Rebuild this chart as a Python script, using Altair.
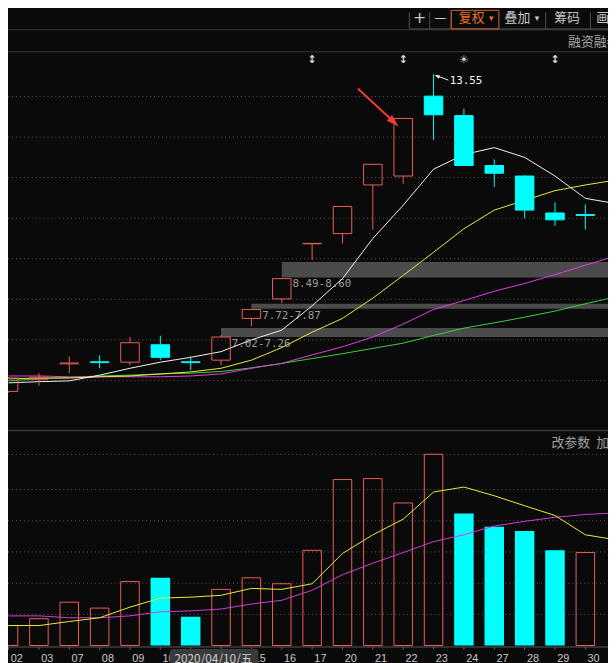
import altair as alt
import pandas as pd

# ---------------- data ----------------
dates = ["02", "03", "07", "08", "09", "10", "13", "14", "15", "16",
         "17", "20", "21", "22", "23", "24", "27", "28", "29", "30"]
open_ = [5.73, 6.03, 6.41, 6.46, 6.45, 6.88, 6.46, 6.50, 7.53, 8.01,
         9.37, 9.62, 10.82, 11.04, 13.01, 12.53, 11.30, 11.04, 10.13, 10.09]
high = [6.08, 6.18, 6.59, 6.62, 7.07, 7.10, 6.59, 7.12, 7.76, 8.52,
        9.38, 10.30, 11.34, 12.47, 13.55, 12.70, 11.45, 11.06, 10.39, 10.34]
low = [5.70, 5.87, 6.18, 6.30, 6.38, 6.50, 6.25, 6.38, 7.34, 7.91,
       8.97, 9.38, 9.72, 10.85, 11.93, 11.29, 10.77, 10.00, 9.81, 9.72]
close = [6.06, 6.08, 6.43, 6.44, 6.93, 6.57, 6.44, 7.07, 7.75, 8.51,
         9.38, 10.29, 11.33, 12.46, 12.55, 11.30, 11.11, 10.20, 9.96, 10.07]
volume = [0.64, 0.86, 1.39, 1.20, 2.05, 2.17, 0.92, 1.80, 2.17, 1.98,
          3.05, 5.32, 5.35, 4.57, 6.13, 4.23, 3.81, 3.67, 3.05, 2.98]

# moving averages (21 points: the 20 visible days + the next day off the right edge)
ma5 = [5.94, 5.97, 5.99, 6.13, 6.30, 6.45, 6.57, 6.71, 7.00, 7.24, 7.84,
       8.51, 9.50, 10.32, 11.21, 11.57, 11.74, 11.50, 11.04, 10.49, 10.36]
ma10 = [6.04, 6.06, 6.06, 6.09, 6.11, 6.16, 6.21, 6.30, 6.50, 6.81, 7.19,
        7.53, 8.03, 8.59, 9.16, 9.74, 10.20, 10.44, 10.68, 10.82, 10.94]
ma20 = [6.11, 6.11, 6.09, 6.09, 6.09, 6.09, 6.11, 6.16, 6.30, 6.42, 6.63,
        6.83, 7.07, 7.39, 7.75, 7.97, 8.20, 8.39, 8.61, 8.84, 9.07]
ma30 = [5.99, 6.04, 6.07, 6.11, 6.13, 6.16, 6.18, 6.22, 6.31, 6.42, 6.54,
        6.66, 6.79, 6.92, 7.11, 7.29, 7.42, 7.56, 7.71, 7.89, 8.06]
vma5 = [0.64, 0.64, 0.77, 0.89, 1.23, 1.52, 1.55, 1.61, 1.83, 1.80, 1.98,
        2.95, 3.55, 4.05, 4.92, 5.08, 4.80, 4.48, 4.17, 3.55, 3.39]
vma10 = [0.95, 0.95, 0.89, 0.89, 0.95, 1.08, 1.11, 1.17, 1.33, 1.45, 1.77,
         2.27, 2.64, 2.98, 3.33, 3.55, 3.83, 3.98, 4.11, 4.20, 4.25]

band_start = [9, 8, 7]
band_lo = [8.54, 7.77, 7.07]
band_hi = [8.92, 7.89, 7.29]
band_text = ["8.49-8.60", "7.72-7.87", "7.02-7.26"]

marker_idx = [10, 13, 15, 18]
marker_sym = ["↕", "↕", "☀", "↕"]

price_grid = [6, 7, 8, 9, 10, 11, 12, 13]
vol_grid = [1, 2, 3, 4, 5, 6.13]

peak_idx = 14
arrow_idx = 13
tooltip_text = "2020/04/10/五"

# ---------------- styling / geometry ----------------
BG = "#0a0a0a"
RED = "#ee5f58"
CYAN = "#00ffff"
GRID = "#5c5c5c"
BAND = "#4b4b4b"
CJK = "Noto Sans CJK SC"
MONO = "DejaVu Sans Mono"

W, H = 608, 655
SX, SY = W / 616, H / 663


def px(v):
    return round(v * SX, 2)


def py(v):
    return round(v * SY, 2)


def ref_price_y(p):
    return 336 - (p - 7) * 41.6


def ref_vol_y(v):
    return 649.5 - 32 * v


xs = alt.Scale(domain=[0, 19], range=[px(-4.5), px(-4.5 + 31.7 * 19)], zero=False, nice=False)
ps = alt.Scale(domain=[6, 13], range=[py(ref_price_y(6)), py(ref_price_y(13))], zero=False, nice=False)
vs = alt.Scale(domain=[0, 6], range=[py(ref_vol_y(0)), py(ref_vol_y(6))], zero=False, nice=False)


def X(f="idx"):
    return alt.X(f"{f}:Q", scale=xs, axis=None)


def YP(f):
    return alt.Y(f"{f}:Q", scale=ps, axis=None)


def YV(f):
    return alt.Y(f"{f}:Q", scale=vs, axis=None)


cdf = pd.DataFrame(dict(idx=list(range(20)), date=dates, open=open_, high=high,
                        low=low, close=close, vol=volume))
cdf["top"] = cdf[["open", "close"]].max(axis=1)
cdf["bot"] = cdf[["open", "close"]].min(axis=1)
cdf["prev"] = cdf["close"].shift(1).fillna(cdf["open"])
cdf["vup"] = cdf["close"] >= cdf["prev"]

mdf = pd.DataFrame(dict(idx=list(range(21)), ma5=ma5, ma10=ma10, ma20=ma20, ma30=ma30,
                        vma5=vma5, vma10=vma10))
bdf = pd.DataFrame(dict(start=band_start, lo=band_lo, hi=band_hi, label=band_text))
evdf = pd.DataFrame(dict(idx=marker_idx, sym=marker_sym))
pgdf = pd.DataFrame(dict(g=price_grid))
vgdf = pd.DataFrame(dict(g=vol_grid))
peak = cdf[cdf.idx == peak_idx]
arr = cdf[cdf.idx == arrow_idx]

one = pd.DataFrame({"k": [0]})
candle_col = alt.condition("datum.close < datum.open", alt.value(CYAN), alt.value(RED))

layers = []


def ui_rule(x1, y1, x2, y2, color, width=1, dash=None):
    kw = dict(color=color, strokeWidth=width)
    if dash:
        kw["strokeDash"] = dash
    return alt.Chart(one).mark_rule(**kw).encode(
        x=alt.value(px(x1)), x2=alt.value(px(x2)), y=alt.value(py(y1)), y2=alt.value(py(y2)))


def ui_text(txt, x, y, color, size, align="left", font=CJK, baseline="middle"):
    return alt.Chart(one).mark_text(text=txt, align=align, baseline=baseline, color=color,
                                    fontSize=size, font=font).encode(
        x=alt.value(px(x)), y=alt.value(py(y)))


def ui_rect(x1, y1, x2, y2, fill=None, stroke=None, radius=0):
    kw = {}
    if fill:
        kw["fill"] = fill
    else:
        kw["fillOpacity"] = 0
        kw["fill"] = BG
    if stroke:
        kw["stroke"] = stroke
        kw["strokeWidth"] = 1
    if radius:
        kw["cornerRadius"] = radius
    return alt.Chart(one).mark_rect(**kw).encode(
        x=alt.value(px(x1)), x2=alt.value(px(x2)), y=alt.value(py(y1)), y2=alt.value(py(y2)))


# ---- header chrome ----
layers.append(ui_rule(0, 18, 616, 18, "#3a3a3a"))
layers.append(ui_rule(0, 40.5, 616, 40.5, "#3a3a3a"))
for xb in [412, 433, 455, 552, 598]:
    layers.append(ui_rule(xb, 0, xb, 17, "#505050"))
layers.append(ui_rule(412, 17, 616, 17, "#505050"))
layers.append(ui_rect(455, -2, 504, 17, stroke="#d8642a"))
layers.append(ui_text("+", 422.5, 6, "#c8c8c8", 16, align="center", font="DejaVu Sans"))
layers.append(ui_text("—", 444, 6, "#c8c8c8", 12, align="center", font="DejaVu Sans"))
layers.append(ui_text("复权", 476, 5.5, "#e8702a", 13, align="center"))
layers.append(ui_text("▾", 496, 5.5, "#e8702a", 9, align="center", font="DejaVu Sans"))
layers.append(ui_text("叠加", 523, 5.5, "#c8c8c8", 13, align="center"))
layers.append(ui_text("▾", 543, 5.5, "#c8c8c8", 9, align="center", font="DejaVu Sans"))
layers.append(ui_text("筹码", 574, 5.5, "#c8c8c8", 13, align="center"))
layers.append(ui_text("画", 604, 5.5, "#c8c8c8", 13, align="left"))
layers.append(ui_text("融资融券", 575, 30.5, "#a8a8a8", 13))

# ---- price panel ----
layers.append(alt.Chart(pgdf).mark_rule(color=GRID, strokeDash=[1, 3], strokeWidth=1).encode(
    y=YP("g"), x=alt.value(0), x2=alt.value(W)))
layers.append(alt.Chart(bdf).mark_rect(color=BAND, clip=True).encode(
    x=X("start"), x2=alt.value(W), y=YP("hi"), y2="lo:Q"))
layers.append(alt.Chart(bdf).mark_text(align="left", baseline="top", dx=px(11), dy=1,
                                       font=MONO, fontSize=11, color="#9a9a9a").encode(
    x=X("start"), y=YP("lo"), text="label:N"))

for col, color in [("ma30", "#3cd23c"), ("ma20", "#e040e0"), ("ma10", "#ecec3c"), ("ma5", "#f4f4f4")]:
    layers.append(alt.Chart(mdf).mark_line(color=color, strokeWidth=1, clip=True).encode(
        x=X(), y=YP(col)))

layers.append(alt.Chart(cdf).mark_rule(strokeWidth=1, clip=True).encode(
    x=X(), y=YP("high"), y2="top:Q", color=candle_col))
layers.append(alt.Chart(cdf).mark_rule(strokeWidth=1, clip=True).encode(
    x=X(), y=YP("bot"), y2="low:Q", color=candle_col))
layers.append(alt.Chart(cdf).transform_filter("datum.close >= datum.open").mark_bar(
    size=px(19), fill=BG, fillOpacity=0, stroke=RED, strokeWidth=1, clip=True).encode(
    x=X(), y=YP("top"), y2="bot:Q"))
layers.append(alt.Chart(cdf).transform_filter("datum.close < datum.open").mark_bar(
    size=px(19), fill=CYAN, stroke=CYAN, strokeWidth=1, clip=True).encode(
    x=X(), y=YP("top"), y2="bot:Q"))

# event markers above the candles
layers.append(alt.Chart(evdf).mark_text(font="DejaVu Sans", fontSize=11, fontWeight="bold",
                                        color="#dcdcdc", baseline="middle").encode(
    x=X(), y=alt.value(py(49)), text="sym:N"))

# peak annotation 13.55
layers.append(alt.Chart(peak).mark_rule(color="#f0f0f0", strokeWidth=1, xOffset=2, yOffset=1,
                                        x2Offset=15, y2Offset=6).encode(
    x=X(), x2="idx:Q", y=YP("high"), y2="high:Q"))
layers.append(alt.Chart(peak).mark_point(shape="M0,-1L0.6,0.7L-0.6,0.7Z", filled=True, size=36,
                                         angle=293, color="#f0f0f0", opacity=1,
                                         xOffset=4, yOffset=2).encode(
    x=X(), y=YP("high")))
layers.append(alt.Chart(peak).mark_text(align="left", baseline="middle", dx=px(16.5), dy=6.5,
                                        font=MONO, fontSize=11, color="#f4f4f4").encode(
    x=X(), y=YP("high"), text=alt.Text("high:Q", format=".2f")))

# red arrow pointing at the 04/22 candle
layers.append(alt.Chart(arr).mark_rule(color="#f03c32", strokeWidth=2, xOffset=-46, yOffset=-30,
                                       x2Offset=-11, y2Offset=2.5).encode(
    x=X(), x2="idx:Q", y=YP("high"), y2="high:Q"))
layers.append(alt.Chart(arr).mark_point(shape="M0,-1L0.5,0.6L-0.5,0.6Z", filled=True, size=256,
                                        angle=133, color="#f03c32", opacity=1,
                                        xOffset=-10.5, yOffset=3).encode(
    x=X(), y=YP("high")))

# ---- volume panel ----
layers.append(ui_rule(0, 429, 616, 429, "#3a3a3a", width=1.5))
layers.append(ui_text("改参数", 558, 441.5, "#a0a0a0", 13))
layers.append(ui_text("加", 604, 441.5, "#a0a0a0", 13))
layers.append(alt.Chart(vgdf).mark_rule(color=GRID, strokeDash=[1, 3], strokeWidth=1).encode(
    y=YV("g"), x=alt.value(0), x2=alt.value(W)))
layers.append(alt.Chart(cdf).transform_filter("datum.vup").mark_bar(
    size=px(19), fill=BG, fillOpacity=0, stroke=RED, strokeWidth=1, clip=True).encode(
    x=X(), y=YV("vol"), y2=alt.datum(0)))
layers.append(alt.Chart(cdf).transform_filter("!datum.vup").mark_bar(
    size=px(20), fill=CYAN, clip=True).encode(
    x=X(), y=YV("vol"), y2=alt.datum(0)))
for col, color in [("vma10", "#d63cd6"), ("vma5", "#ecec3c")]:
    layers.append(alt.Chart(mdf).mark_line(color=color, strokeWidth=1, clip=True).encode(
        x=X(), y=YV(col)))

# bottom date axis
layers.append(ui_rule(0, 651, 616, 651, "#5a5a5a"))
layers.append(alt.Chart(cdf).mark_rule(color="#5a5a5a", clip=True).encode(
    x=X(), y=alt.value(py(651)), y2=alt.value(py(654))))
layers.append(alt.Chart(cdf).mark_text(align="center", baseline="alphabetic", dx=px(8.5),
                                       font="Liberation Sans", fontSize=11,
                                       color="#c8c8c8").encode(
    x=X(), y=alt.value(py(666)), text="date:N"))
layers.append(ui_rect(166, 653, 257, 670, fill="#3a3a3a", radius=3))
layers.append(ui_text(tooltip_text, 211, 667, "#cfcfcf", 12, align="center", baseline="alphabetic"))

chart = alt.layer(*layers).resolve_scale(y="independent").properties(
    width=W, height=H, padding=0, background=BG,
    autosize=alt.AutoSizeParams(type="none"),
).configure_view(stroke=None)

chart.save("out.html", embed_options={"renderer": "svg", "actions": False})
